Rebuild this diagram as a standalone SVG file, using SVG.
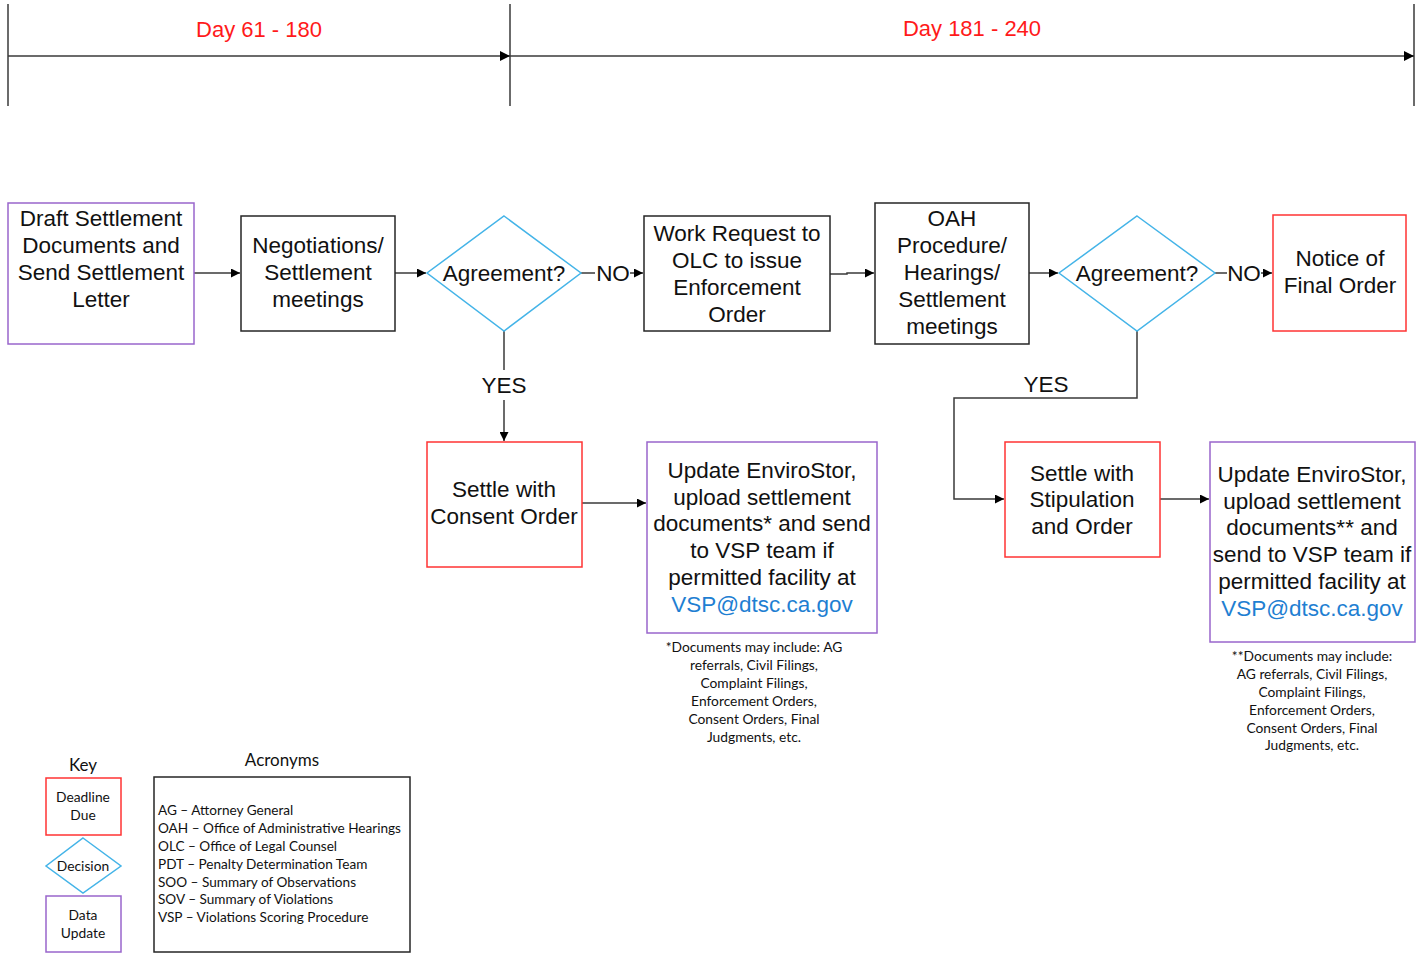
<svg xmlns="http://www.w3.org/2000/svg" width="1427" height="954" viewBox="0 0 1427 954">
  <style>
    .bg { fill: #ffffff; }
    .box { fill: #ffffff; stroke-width: 1.5; }
    .plain { stroke: #262626; }
    .deadline { stroke: #ff3333; }
    .data { stroke: #9966cc; }
    .decision { fill: #ffffff; stroke: #44b4e8; stroke-width: 1.5; }
    .line { fill: none; stroke: #3a3a3a; stroke-width: 1.5; }
    .t { font-family: "Liberation Sans", Arial, sans-serif; font-size: 22.5px; fill: #111111; text-anchor: middle; }
    .lbl { font-family: "Liberation Sans", Arial, sans-serif; font-size: 22.5px; fill: #111111; text-anchor: middle; }
    .day { font-family: "Liberation Sans", Arial, sans-serif; font-size: 22px; fill: #ff1a1a; text-anchor: middle; }
    .link { fill: #1f7fd2; }
    .note { font-family: Lato, "Open Sans", sans-serif; font-size: 13.8px; fill: #111111; text-anchor: middle; }
    .key { font-family: Lato, "Open Sans", sans-serif; font-size: 13.8px; fill: #111111; text-anchor: middle; }
    .acr { font-family: Lato, "Open Sans", sans-serif; font-size: 13.6px; fill: #111111; }
    .head { font-family: Lato, "Open Sans", sans-serif; font-size: 17px; fill: #111111; text-anchor: middle; }
  </style>
  <defs>
    <marker id="arrow" viewBox="0 0 10 10" refX="10" refY="5" markerWidth="9" markerHeight="9" markerUnits="userSpaceOnUse" orient="auto">
      <path d="M0,0 L10,5 L0,10 z" fill="#000000"/>
    </marker>
    <marker id="arrowL" viewBox="0 0 10 10" refX="10" refY="5" markerWidth="10" markerHeight="10" markerUnits="userSpaceOnUse" orient="auto">
      <path d="M0,0 L10,5 L0,10 z" fill="#000000"/>
    </marker>
  </defs>

  <rect class="bg" x="0" y="0" width="1427" height="954"/>

  <!-- timeline -->
  <g id="timeline">
    <line class="line" x1="8" y1="4" x2="8" y2="106"/>
    <line class="line" x1="510" y1="4" x2="510" y2="106"/>
    <line class="line" x1="1414" y1="4" x2="1414" y2="106"/>
    <line class="line" x1="8" y1="56" x2="510" y2="56" marker-end="url(#arrowL)"/>
    <line class="line" x1="510" y1="56" x2="1414" y2="56" marker-end="url(#arrowL)"/>
    <text class="day" x="259" y="37">Day 61 - 180</text>
    <text class="day" x="972" y="36">Day 181 - 240</text>
  </g>

  <!-- connectors -->
  <g id="connectors">
    <line class="line" x1="194" y1="273" x2="240" y2="273" marker-end="url(#arrow)"/>
    <line class="line" x1="395" y1="273" x2="426" y2="273" marker-end="url(#arrow)"/>
    <line class="line" x1="581" y1="273" x2="595" y2="273"/>
    <line class="line" x1="630" y1="273" x2="643" y2="273" marker-end="url(#arrow)"/>
    <polyline class="line" points="830,274 847,274 847,273 874,273" marker-end="url(#arrow)"/>
    <line class="line" x1="1029" y1="273" x2="1058" y2="273" marker-end="url(#arrow)"/>
    <line class="line" x1="1215" y1="273" x2="1227" y2="273"/>
    <line class="line" x1="1261" y1="273" x2="1272" y2="273" marker-end="url(#arrow)"/>
    <line class="line" x1="504" y1="331" x2="504" y2="370"/>
    <line class="line" x1="504" y1="400" x2="504" y2="441" marker-end="url(#arrow)"/>
    <line class="line" x1="582" y1="503" x2="646" y2="503" marker-end="url(#arrow)"/>
    <polyline class="line" points="1137,331 1137,398 954,398 954,499 1004,499" marker-end="url(#arrow)"/>
    <line class="line" x1="1160" y1="499" x2="1209" y2="499" marker-end="url(#arrow)"/>
    <text class="lbl" x="613" y="281">NO</text>
    <text class="lbl" x="1244" y="281">NO</text>
    <text class="lbl" x="504" y="393">YES</text>
    <text class="lbl" x="1046" y="392">YES</text>
  </g>

  <g id="draft">
    <rect class="box data" x="8" y="203" width="186" height="141"/>
    <text class="t" x="101" y="226">Draft Settlement</text>
    <text class="t" x="101" y="253">Documents and</text>
    <text class="t" x="101" y="280">Send Settlement</text>
    <text class="t" x="101" y="307">Letter</text>
  </g>

  <g id="negotiations">
    <rect class="box plain" x="241" y="216" width="154" height="115"/>
    <text class="t" x="318" y="253">Negotiations/</text>
    <text class="t" x="318" y="280">Settlement</text>
    <text class="t" x="318" y="307">meetings</text>
  </g>

  <g id="agreement1">
    <polygon class="decision" points="504,216 581,273 504,331 427,273"/>
    <text class="t" x="504" y="281">Agreement?</text>
  </g>

  <g id="work-request">
    <rect class="box plain" x="644" y="216" width="186" height="115"/>
    <text class="t" x="737" y="241">Work Request to</text>
    <text class="t" x="737" y="268">OLC to issue</text>
    <text class="t" x="737" y="295">Enforcement</text>
    <text class="t" x="737" y="322">Order</text>
  </g>

  <g id="oah">
    <rect class="box plain" x="875" y="203" width="154" height="141"/>
    <text class="t" x="952" y="226">OAH</text>
    <text class="t" x="952" y="253">Procedure/</text>
    <text class="t" x="952" y="280">Hearings/</text>
    <text class="t" x="952" y="307">Settlement</text>
    <text class="t" x="952" y="334">meetings</text>
  </g>

  <g id="agreement2">
    <polygon class="decision" points="1137,216 1215,273 1137,331 1059,273"/>
    <text class="t" x="1137" y="281">Agreement?</text>
  </g>

  <g id="final-order">
    <rect class="box deadline" x="1273" y="215" width="133" height="116"/>
    <text class="t" x="1340" y="266">Notice of</text>
    <text class="t" x="1340" y="293">Final Order</text>
  </g>

  <g id="consent-order">
    <rect class="box deadline" x="427" y="442" width="155" height="125"/>
    <text class="t" x="504" y="497">Settle with</text>
    <text class="t" x="504" y="524">Consent Order</text>
  </g>

  <g id="update1">
    <rect class="box data" x="647" y="442" width="230" height="191"/>
    <text class="t" x="762" y="478">Update EnviroStor,</text>
    <text class="t" x="762" y="505">upload settlement</text>
    <text class="t" x="762" y="531">documents* and send</text>
    <text class="t" x="762" y="558">to VSP team if</text>
    <text class="t" x="762" y="585">permitted facility at</text>
    <text class="t link" x="762" y="612">VSP@dtsc.ca.gov</text>
  </g>

  <g id="note1">
    <text class="note" x="754" y="652">*Documents may include: AG</text>
    <text class="note" x="754" y="670">referrals, Civil Filings,</text>
    <text class="note" x="754" y="688">Complaint Filings,</text>
    <text class="note" x="754" y="706">Enforcement Orders,</text>
    <text class="note" x="754" y="724">Consent Orders, Final</text>
    <text class="note" x="754" y="742">Judgments, etc.</text>
  </g>

  <g id="stipulation">
    <rect class="box deadline" x="1005" y="442" width="155" height="115"/>
    <text class="t" x="1082" y="481">Settle with</text>
    <text class="t" x="1082" y="507">Stipulation</text>
    <text class="t" x="1082" y="534">and Order</text>
  </g>

  <g id="update2">
    <rect class="box data" x="1210" y="442" width="205" height="200"/>
    <text class="t" x="1312" y="482">Update EnviroStor,</text>
    <text class="t" x="1312" y="509">upload settlement</text>
    <text class="t" x="1312" y="535">documents** and</text>
    <text class="t" x="1312" y="562">send to VSP team if</text>
    <text class="t" x="1312" y="589">permitted facility at</text>
    <text class="t link" x="1312" y="616">VSP@dtsc.ca.gov</text>
  </g>

  <g id="note2">
    <text class="note" x="1312" y="661">**Documents may include:</text>
    <text class="note" x="1312" y="679">AG referrals, Civil Filings,</text>
    <text class="note" x="1312" y="697">Complaint Filings,</text>
    <text class="note" x="1312" y="715">Enforcement Orders,</text>
    <text class="note" x="1312" y="733">Consent Orders, Final</text>
    <text class="note" x="1312" y="750">Judgments, etc.</text>
  </g>

  <g id="key">
    <text class="head" x="83" y="771">Key</text>
    <rect class="box deadline" x="46" y="778" width="75" height="57"/>
    <text class="key" x="83" y="802">Deadline</text>
    <text class="key" x="83" y="820">Due</text>
    <polygon class="decision" points="83,838 121,866 83,893 46,866"/>
    <text class="key" x="83" y="871">Decision</text>
    <rect class="box data" x="46" y="896" width="75" height="56"/>
    <text class="key" x="83" y="920">Data</text>
    <text class="key" x="83" y="938">Update</text>
  </g>

  <g id="acronyms">
    <text class="head" x="282" y="766">Acronyms</text>
    <rect class="box plain" x="154" y="777" width="256" height="175"/>
    <text class="acr" x="158" y="815">AG – Attorney General</text>
    <text class="acr" x="158" y="833">OAH – Office of Administrative Hearings</text>
    <text class="acr" x="158" y="851">OLC – Office of Legal Counsel</text>
    <text class="acr" x="158" y="869">PDT – Penalty Determination Team</text>
    <text class="acr" x="158" y="887">SOO – Summary of Observations</text>
    <text class="acr" x="158" y="904">SOV – Summary of Violations</text>
    <text class="acr" x="158" y="922">VSP – Violations Scoring Procedure</text>
  </g>
</svg>
